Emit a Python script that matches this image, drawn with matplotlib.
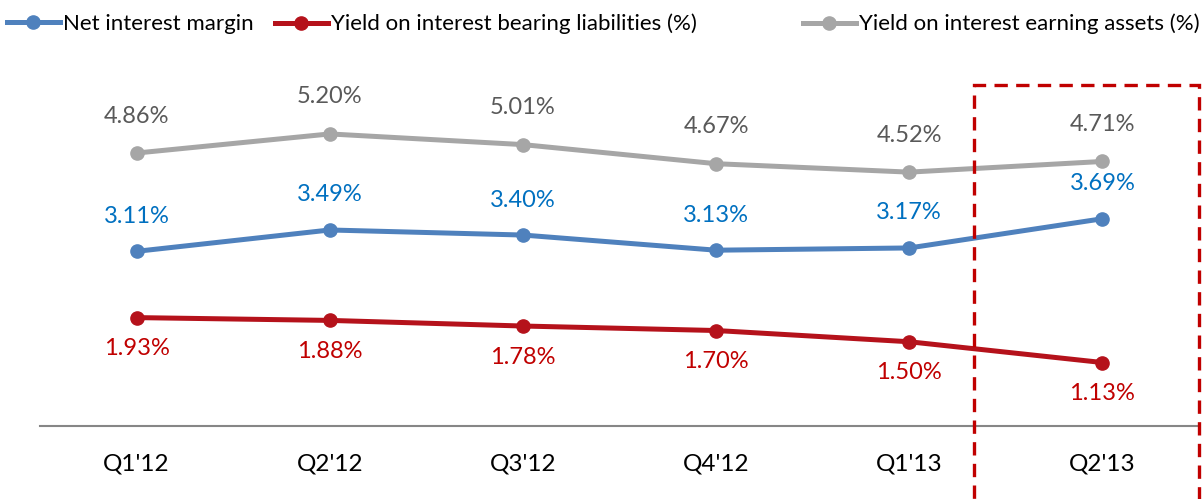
import matplotlib.pyplot as plt
from matplotlib.lines import Line2D
from matplotlib.patches import Rectangle

plt.rcParams['font.family'] = ['Lato', 'DejaVu Sans']

quarters = ["Q1'12", "Q2'12", "Q3'12", "Q4'12", "Q1'13", "Q2'13"]
nim = [3.11, 3.49, 3.40, 3.13, 3.17, 3.69]
liab = [1.93, 1.88, 1.78, 1.70, 1.50, 1.13]
assets = [4.86, 5.20, 5.01, 4.67, 4.52, 4.71]

c_blue, c_red, c_gray = '#4F81BD', '#B5121B', '#A6A6A6'
t_blue, t_red, t_gray = '#0070C0', '#C00000', '#595959'

fig = plt.figure(figsize=(12.04, 4.99), dpi=100)
ax = fig.add_axes([40/1204, 73/499, 1159/1204, 337/499])
x = range(len(quarters))

series = [
    (assets, c_gray, t_gray, 37, 'Yield on interest earning assets (%)'),
    (nim, c_blue, t_blue, 35, 'Net interest margin'),
    (liab, c_red, t_red, -31, 'Yield on interest bearing liabilities (%)'),
]
for vals, lc, tc, off, name in series:
    ax.plot(x, vals, color=lc, lw=3.6, marker='o', ms=9.5, solid_capstyle='round')
    for i, v in enumerate(vals):
        ax.annotate('%.2f%%' % v, (i, v), xytext=(0, off), textcoords='offset pixels',
                    ha='center', va='center', fontsize=17, color=tc)

ax.set_xlim(-0.5, 5.5)
ax.set_ylim(0, 6)
ax.set_xticks(list(x))
ax.set_xticklabels(quarters, fontsize=17.5)
ax.tick_params(axis='x', length=0, pad=20)
ax.set_yticks([])
for s in ['top', 'left', 'right']:
    ax.spines[s].set_visible(False)
ax.spines['bottom'].set_color('#868686')
ax.spines['bottom'].set_linewidth(1.5)

# dashed highlight box around the last quarter
box = Rectangle((974/1204, -0.05), 225/1204, 1 - 85/499 + 0.05, transform=fig.transFigure,
                fill=False, edgecolor='#C00000', lw=2.4, ls=(0, (4, 2.5)), clip_on=False)
fig.patches.append(box)

# legend entries placed individually
leg_items = [(c_blue, 'Net interest margin', 0.0),
             (c_red, 'Yield on interest bearing liabilities (%)', 268/1204),
             (c_gray, 'Yield on interest earning assets (%)', 796/1204)]
for col, lab, lx in leg_items:
    h = Line2D([], [], color=col, lw=3.6, marker='o', ms=9.5)
    fig.legend(handles=[h], labels=[lab], loc='center left', bbox_to_anchor=(lx, 1 - 24/499),
               frameon=False, fontsize=16, handlelength=2.4, handletextpad=0.15,
               borderaxespad=0, borderpad=0.3)

fig.savefig('out.png', dpi=100)
